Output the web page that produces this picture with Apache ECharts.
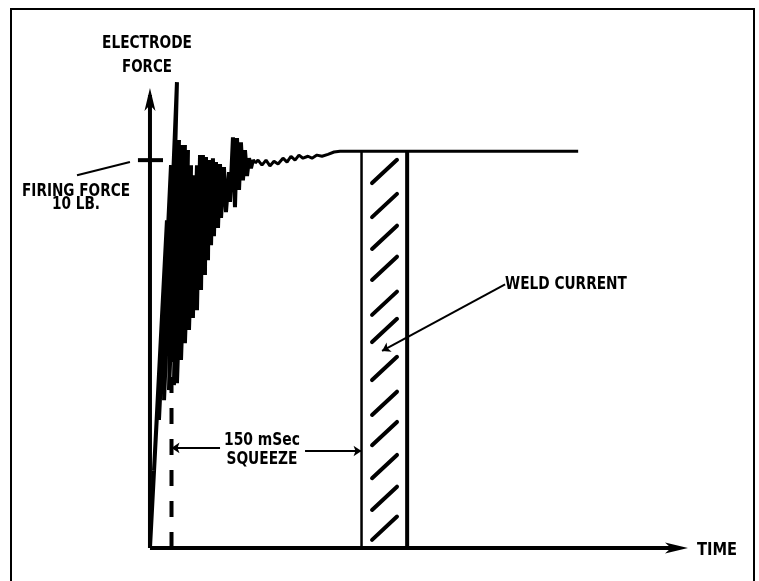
<!DOCTYPE html>
<html><head><meta charset="utf-8">
<script src="https://cdn.jsdelivr.net/npm/echarts@6/dist/echarts.min.js"></script>
<style>html,body{margin:0;padding:0;background:#fff}#c{width:759px;height:581px}</style>
</head><body><div id="c"></div>
<script>
// time in ms, force in lb
const waveTime = [0, 10.3, 3.2, 13.4, 7.1, 16.6, 11.1, 21.3, 15.0, 22.9, 18.9, 25.3, 21.3, 27.6, 24.5, 30.0, 27.6, 32.4, 30.8, 34.7, 33.9, 37.1, 37.1, 39.5, 40.3, 41.8, 43.4, 44.2, 45.8, 46.6, 48.2, 49.7, 50.5, 52.1, 53.7, 55.3, 56.1, 58.4, 60.0, 62.4, 63.2, 65.5, 67.1, 68.7, 70.3, 71.8, 73.4, 75.0, 76.6, 78.2, 79.7, 81.3, 82.9,
  85.3, 88.4, 91.6, 94.7, 97.9, 101.1, 105.0, 108.2, 111.3, 114.5, 117.6, 120.8, 124.7, 127.9, 131.8, 135.8, 140.5, 145.3, 150.0, 338];
const waveForce = [0, 6.39, 2.01, 8.45, 3.30, 9.87, 3.81, 12.01, 4.07, 10.52, 4.20, 10.39, 4.25, 10.39, 4.85, 10.26, 5.28, 9.87, 5.62, 9.61, 5.93, 9.87, 6.13, 10.13, 6.65, 10.13, 7.04, 10.08, 7.42, 10.00, 7.81, 10.05, 8.04, 9.95, 8.25, 9.90, 8.51, 9.82, 8.66, 9.69, 8.92, 10.59, 8.79, 10.57, 9.23, 10.46, 9.48, 10.26, 9.59, 10.05, 9.79, 10.00, 9.92,
  10.00, 9.87, 10.00, 9.85, 9.97, 9.90, 10.05, 9.95, 10.10, 10.00, 10.13, 10.05, 10.10, 10.05, 10.13, 10.10, 10.15, 10.21, 10.23, 10.23];
const settleIndex = 52;   // oscillation ends here, small ripple follows
const firingForce = 10;
const firingTick = [-9.5, 10.3];
const firingPointer = [[-57.6, 9.61], [-15.8, 9.95]];
const squeezeStart = 17;
const squeezeEnd = 167;
const weldEnd = 203;
const weldTop = 10.23;
const dashTop = 7.4;
const hatchBase = [9.41, 8.53, 7.71, 6.91, 6.01, 5.31, 4.33, 3.43, 2.65, 1.80, 0.98, 0.21];
const hatchSpan = [175.3, 195.0];
const hatchRise = 0.6;
const weldPointer = [[280.3, 6.80], [183.2, 5.08]];
const dimLeft = [[55.3, 2.58], [squeezeStart, 2.58]];
const dimRight = [[122.4, 2.50], [squeezeEnd, 2.50]];
const timeAxisEnd = 424.7, forceAxisEnd = 11.86;   // arrow tips
const xMin = -109.7;

const FONT = "'DejaVu Sans', sans-serif";
const black = '#000';
function lineSeries(data, width, extra) {
  return Object.assign({
    type: 'line', data: data, symbol: 'none', clip: false, silent: true,
    lineStyle: { color: black, width: width, cap: 'butt' }, itemStyle: { color: black }, z: 3
  }, extra || {});
}
const wave = waveTime.map((t, i) => [t, waveForce[i]]);
const series = [];
// axes (line runs into the arrowhead)
series.push(lineSeries([[0, 0], [timeAxisEnd * 0.98, 0]], 4, { z: 2 }));
series.push(lineSeries([[0, 0], [0, forceAxisEnd * 0.985]], 4, { z: 2 }));
series.push({
  type: 'custom', coordinateSystem: 'cartesian2d', clip: false, silent: true, z: 5,
  data: [[timeAxisEnd, 0, 0], [0, forceAxisEnd, 1]],
  renderItem: function (params, api) {
    const p = api.coord([api.value(0), api.value(1)]);
    const L = 23, N = 17, W = 5.5;
    const pts = api.value(2) === 0
      ? [[p[0], p[1]], [p[0] - L, p[1] - W], [p[0] - N, p[1]], [p[0] - L, p[1] + W]]
      : [[p[0], p[1]], [p[0] - W, p[1] + L], [p[0], p[1] + N], [p[0] + W, p[1] + L]];
    return { type: 'polygon', shape: { points: pts }, style: { fill: black } };
  }
});
// waveform
series.push(lineSeries(wave.slice(0, settleIndex + 1), 4, { lineStyle: { color: black, width: 4, join: 'bevel' } }));
series.push(lineSeries(wave.slice(settleIndex), 3, { lineStyle: { color: black, width: 3, join: 'bevel' } }));
series.push(lineSeries([[firingTick[0], firingForce], [firingTick[1], firingForce]], 4));
series.push(lineSeries(firingPointer, 2));
series.push(lineSeries([[squeezeStart, 0], [squeezeStart, dashTop]], 4, { z: 4, lineStyle: { color: black, width: 4, type: [16, 15] } }));
series.push(lineSeries([[squeezeEnd, 0], [squeezeEnd, weldTop]], 2.5));
series.push(lineSeries([[weldEnd, 0], [weldEnd, weldTop]], 4));
hatchBase.forEach(b => series.push(lineSeries([[hatchSpan[0], b], [hatchSpan[1], b + hatchRise]], 4, { lineStyle: { color: black, width: 4, cap: 'round' } })));
series.push({
  type: 'lines', coordinateSystem: 'cartesian2d', silent: true, z: 4,
  symbol: ['none', 'arrow'], symbolSize: 8,
  lineStyle: { color: black, width: 2, opacity: 1, curveness: 0 },
  data: [{ coords: weldPointer }, { coords: dimLeft }, { coords: dimRight }]
});

const texts = [
  ['ELECTRODE', 147, 43, 'center', 0.763], ['FORCE', 147, 67, 'center', 0.746],
  ['FIRING FORCE', 76, 191, 'center', 0.757], ['10 LB.', 76, 204, 'center', 0.758],
  ['WELD CURRENT', 505, 284, 'left', 0.762],
  ['150 mSec', 262, 440, 'center', 0.772], ['SQUEEZE', 262, 459, 'center', 0.765],
  ['TIME', 697, 550, 'left', 0.815]
];
const graphic = [{ type: 'rect', shape: { x: 11, y: 9, width: 743, height: 620 }, style: { fill: 'none', stroke: black, lineWidth: 2 }, silent: true }];
texts.forEach(([s, x, y, a, sx]) => graphic.push({
  type: 'text', x: x, y: y, scaleX: sx, silent: true, z: 10,
  style: { text: s, fill: black, font: 'bold 18px ' + FONT, textAlign: a, textVerticalAlign: 'middle' }
}));

const chart = echarts.init(document.getElementById('c'), null, { renderer: 'canvas' });
chart.setOption({
  animation: false, backgroundColor: '#fff',
  grid: { left: 11, right: 71, top: 88, bottom: 33 },
  xAxis: { type: 'value', min: xMin, max: timeAxisEnd, show: false },
  yAxis: { type: 'value', min: 0, max: forceAxisEnd, show: false },
  series: series,
  graphic: graphic
});
</script></body></html>
